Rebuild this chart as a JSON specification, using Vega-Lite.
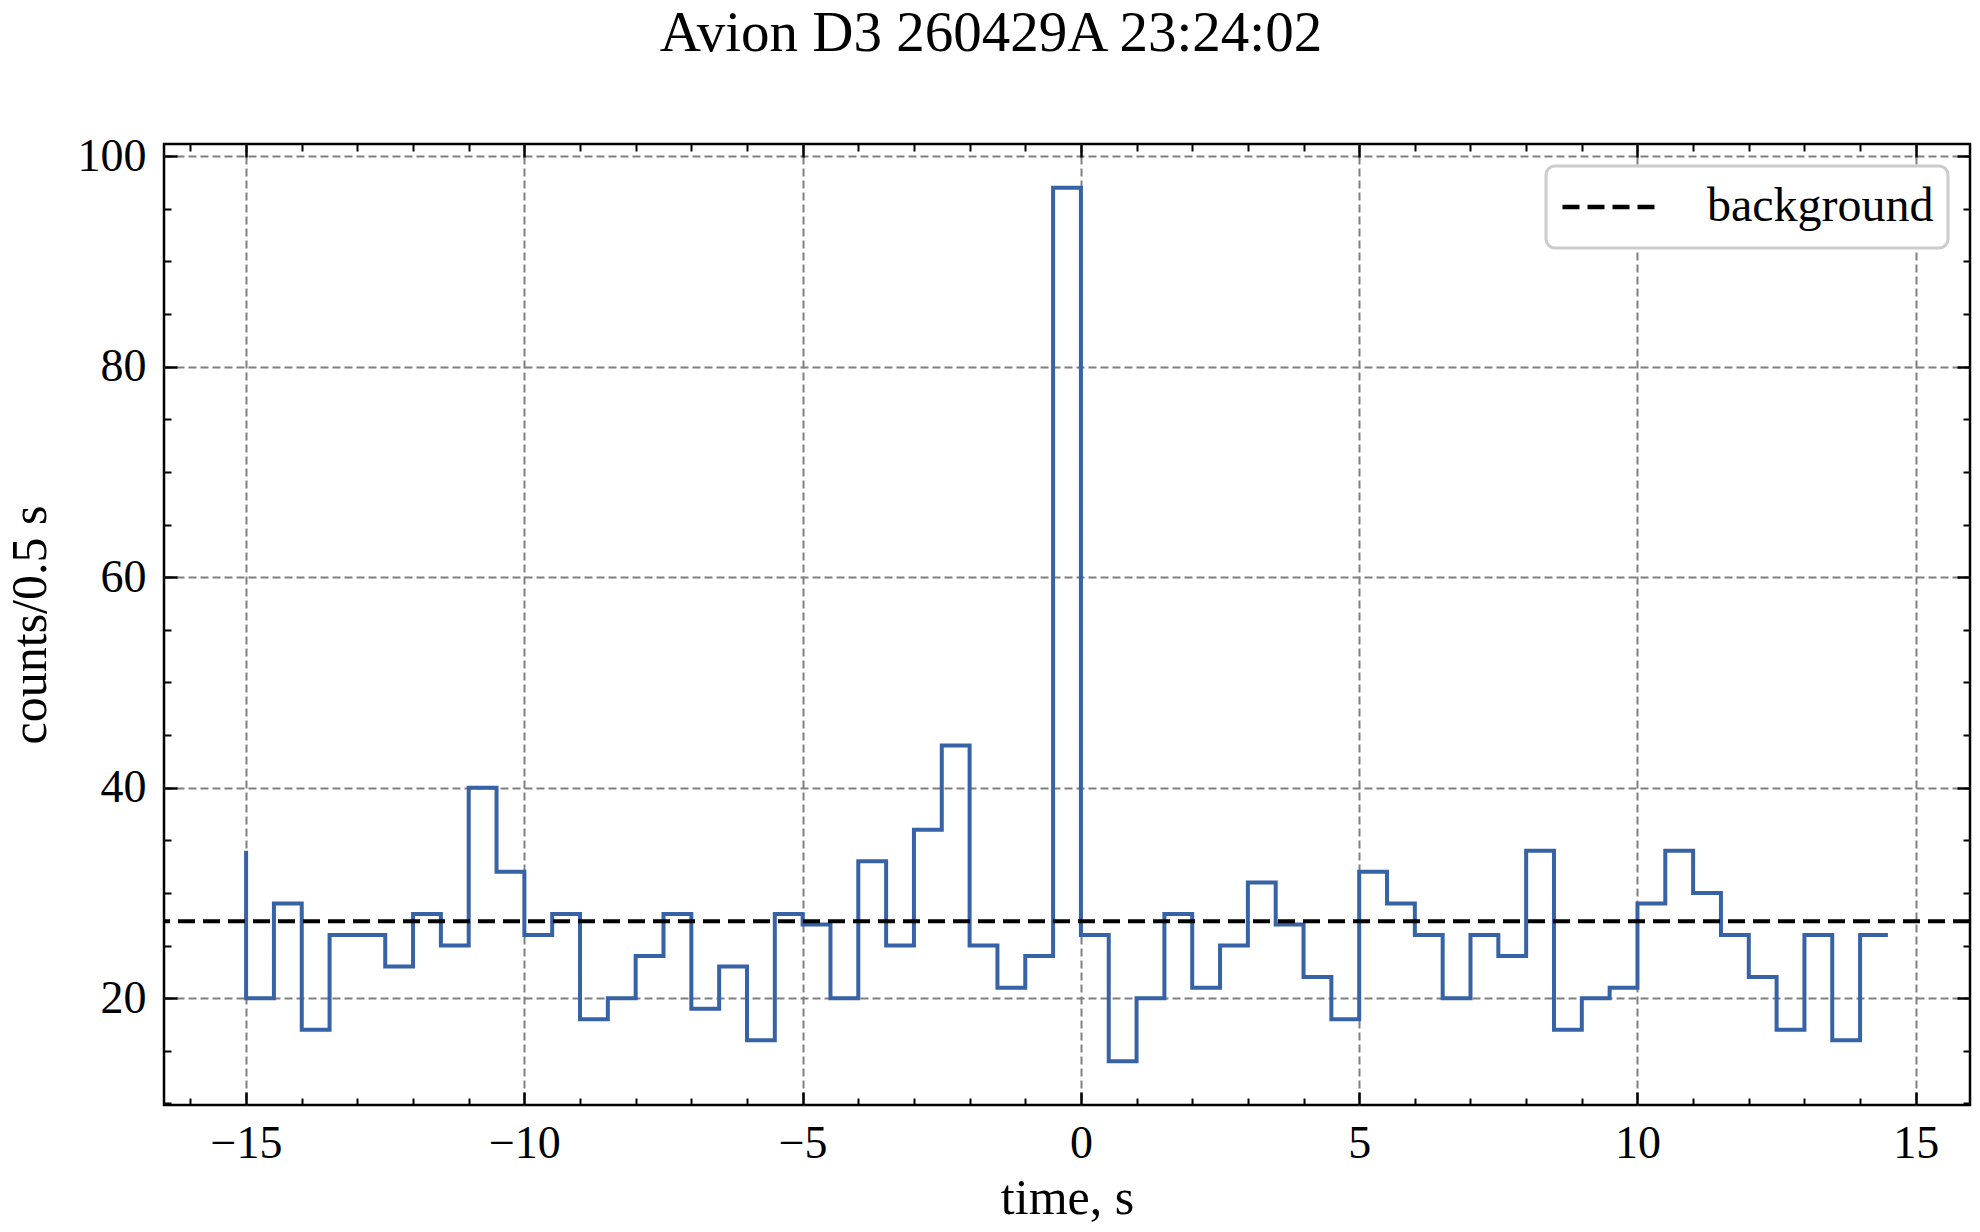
{
  "$schema": "https://vega.github.io/schema/vega-lite/v6.json",
  "width": 1806,
  "height": 961,
  "autosize": {"type": "none"},
  "padding": {"left": 164, "top": 144, "right": 10, "bottom": 127},
  "background": "white",
  "title": {
    "text": "Avion D3 260429A 23:24:02",
    "font": "Liberation Serif",
    "fontSize": 57,
    "fontWeight": "normal",
    "color": "black",
    "anchor": "middle",
    "frame": "group",
    "dx": -76,
    "baseline": "alphabetic",
    "offset": 25
  },
  "config": {
    "font": "Liberation Serif",
    "view": {"stroke": "black", "strokeWidth": 2.5},
    "axis": {
      "labelFont": "Liberation Serif",
      "titleFont": "Liberation Serif",
      "labelFontSize": 46,
      "titleFontSize": 50,
      "titleFontWeight": "normal",
      "labelColor": "black",
      "titleColor": "black",
      "tickColor": "black",
      "domain": false,
      "labelOverlap": false,
      "labelFlush": false
    },
    "legend": {
      "strokeColor": "#cccccc",
      "strokeWidth": 3,
      "cornerRadius": 9,
      "fillColor": "white",
      "padding": 14
    }
  },
  "datasets": {
    "lc": [
      {"t": -15, "c": 34}, {"t": -14.5, "c": 20}, {"t": -14, "c": 29}, {"t": -13.5, "c": 17},
      {"t": -13, "c": 26}, {"t": -12.5, "c": 26}, {"t": -12, "c": 23}, {"t": -11.5, "c": 28},
      {"t": -11, "c": 25}, {"t": -10.5, "c": 40}, {"t": -10, "c": 32}, {"t": -9.5, "c": 26},
      {"t": -9, "c": 28}, {"t": -8.5, "c": 18}, {"t": -8, "c": 20}, {"t": -7.5, "c": 24},
      {"t": -7, "c": 28}, {"t": -6.5, "c": 19}, {"t": -6, "c": 23}, {"t": -5.5, "c": 16},
      {"t": -5, "c": 28}, {"t": -4.5, "c": 27}, {"t": -4, "c": 20}, {"t": -3.5, "c": 33},
      {"t": -3, "c": 25}, {"t": -2.5, "c": 36}, {"t": -2, "c": 44}, {"t": -1.5, "c": 25},
      {"t": -1, "c": 21}, {"t": -0.5, "c": 24}, {"t": 0, "c": 97}, {"t": 0.5, "c": 26},
      {"t": 1, "c": 14}, {"t": 1.5, "c": 20}, {"t": 2, "c": 28}, {"t": 2.5, "c": 21},
      {"t": 3, "c": 25}, {"t": 3.5, "c": 31}, {"t": 4, "c": 27}, {"t": 4.5, "c": 22},
      {"t": 5, "c": 18}, {"t": 5.5, "c": 32}, {"t": 6, "c": 29}, {"t": 6.5, "c": 26},
      {"t": 7, "c": 20}, {"t": 7.5, "c": 26}, {"t": 8, "c": 24}, {"t": 8.5, "c": 34},
      {"t": 9, "c": 17}, {"t": 9.5, "c": 20}, {"t": 10, "c": 21}, {"t": 10.5, "c": 29},
      {"t": 11, "c": 34}, {"t": 11.5, "c": 30}, {"t": 12, "c": 26}, {"t": 12.5, "c": 22},
      {"t": 13, "c": 17}, {"t": 13.5, "c": 26}, {"t": 14, "c": 16}, {"t": 14.5, "c": 26}
    ]
  },
  "layer": [
    {
      "data": {"name": "lc"},
      "mark": {"type": "line", "interpolate": "step-before", "color": "#3762a6", "strokeWidth": 4},
      "encoding": {
        "x": {
          "field": "t",
          "type": "quantitative",
          "scale": {"domain": [-16.475, 15.975], "nice": false, "zero": false},
          "axis": {
            "orient": "bottom",
            "title": "time, s",
            "values": [-15, -10, -5, 0, 5, 10, 15],
            "format": "d",
            "tickSize": -13,
            "tickWidth": 2.5,
            "labelPadding": 65,
            "labelBaseline": "alphabetic",
            "grid": true,
            "gridColor": "#808080",
            "gridDash": [8, 4],
            "gridWidth": 2,
            "titleX": 903,
            "titleY": 108,
            "titleBaseline": "alphabetic"
          }
        },
        "y": {
          "field": "c",
          "type": "quantitative",
          "scale": {"domain": [9.85, 101.15], "nice": false, "zero": false},
          "axis": {
            "orient": "left",
            "title": "counts/0.5 s",
            "values": [20, 40, 60, 80, 100],
            "format": "d",
            "tickSize": -13,
            "tickWidth": 2.5,
            "labelPadding": 31,
            "grid": true,
            "gridColor": "#808080",
            "gridDash": [8, 4],
            "gridWidth": 2,
            "titleAngle": -90,
            "titleX": -119,
            "titleY": 480.5,
            "titleBaseline": "alphabetic"
          }
        }
      }
    },
    {
      "data": {"values": [{}]},
      "mark": {"type": "rule", "strokeDash": [17, 8], "strokeWidth": 4},
      "encoding": {
        "y": {"datum": 27.3, "type": "quantitative", "axis": null},
        "color": {
          "datum": "background",
          "type": "nominal",
          "scale": {"domain": ["background"], "range": ["black"]},
          "legend": {
            "title": null,
            "orient": "top-right",
            "offset": 22,
            "symbolType": "stroke",
            "symbolSize": 8836,
            "symbolStrokeWidth": 4.5,
            "symbolDash": [17, 8],
            "symbolStrokeColor": "black",
            "clipHeight": 54,
            "labelFont": "Liberation Serif",
            "labelFontSize": 48,
            "labelLimit": 500,
            "labelColor": "black",
            "labelOffset": 48
          }
        }
      }
    },
    {
      "data": {"name": "lc"},
      "mark": {"type": "point", "opacity": 0},
      "encoding": {
        "x": {
          "field": "t",
          "type": "quantitative",
          "axis": {"orient": "top", "title": null, "labels": false, "grid": false, "values": [-15, -10, -5, 0, 5, 10, 15], "tickSize": -13, "tickWidth": 2.5}
        },
        "y": {
          "field": "c",
          "type": "quantitative",
          "axis": {"orient": "right", "title": null, "labels": false, "grid": false, "values": [20, 40, 60, 80, 100], "tickSize": -13, "tickWidth": 2.5}
        }
      }
    },
    {
      "data": {"name": "lc"},
      "mark": {"type": "point", "opacity": 0},
      "encoding": {
        "x": {
          "field": "t",
          "type": "quantitative",
          "axis": {"orient": "bottom", "title": null, "labels": false, "grid": false, "values": [-16, -14, -13, -12, -11, -9, -8, -7, -6, -4, -3, -2, -1, 1, 2, 3, 4, 6, 7, 8, 9, 11, 12, 13, 14], "tickSize": -7, "tickWidth": 2}
        },
        "y": {
          "field": "c",
          "type": "quantitative",
          "axis": {"orient": "left", "title": null, "labels": false, "grid": false, "values": [10, 15, 25, 30, 35, 45, 50, 55, 65, 70, 75, 85, 90, 95], "tickSize": -7, "tickWidth": 2}
        }
      }
    },
    {
      "data": {"name": "lc"},
      "mark": {"type": "point", "opacity": 0},
      "encoding": {
        "x": {
          "field": "t",
          "type": "quantitative",
          "axis": {"orient": "top", "title": null, "labels": false, "grid": false, "values": [-16, -14, -13, -12, -11, -9, -8, -7, -6, -4, -3, -2, -1, 1, 2, 3, 4, 6, 7, 8, 9, 11, 12, 13, 14], "tickSize": -7, "tickWidth": 2}
        },
        "y": {
          "field": "c",
          "type": "quantitative",
          "axis": {"orient": "right", "title": null, "labels": false, "grid": false, "values": [10, 15, 25, 30, 35, 45, 50, 55, 65, 70, 75, 85, 90, 95], "tickSize": -7, "tickWidth": 2}
        }
      }
    }
  ],
  "resolve": {"axis": {"x": "independent", "y": "independent"}}
}
